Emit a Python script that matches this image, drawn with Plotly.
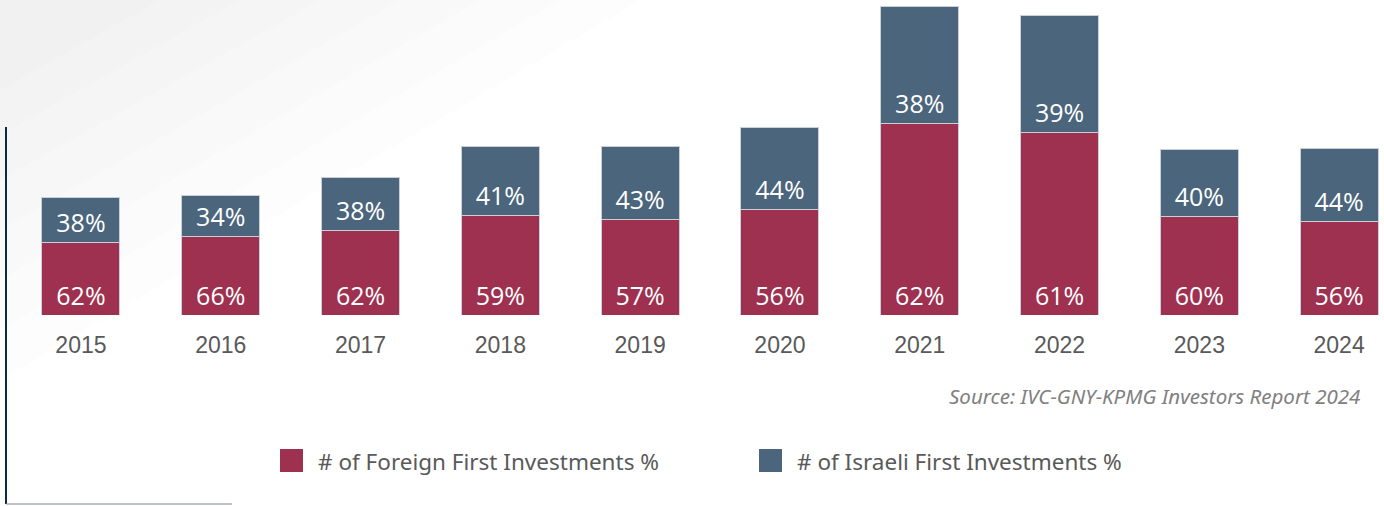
import plotly.graph_objects as go

years = ["2015", "2016", "2017", "2018", "2019", "2020", "2021", "2022", "2023", "2024"]
# number of first investments
foreign = [73, 79, 85, 100, 96, 106, 192, 183, 99, 94]
israeli = [45, 41, 53, 69, 73, 82, 117, 117, 67, 73]
foreign_pct = ["62%", "66%", "62%", "59%", "57%", "56%", "62%", "61%", "60%", "56%"]
israeli_pct = ["38%", "34%", "38%", "41%", "43%", "44%", "38%", "39%", "40%", "44%"]

FOREIGN_COLOR = "#9e3150"
ISRAELI_COLOR = "#4a657c"
W, H = 1384, 506
BOTTOM = 191  # px below the baseline


def px(x, y):
    # page pixels -> paper coordinates
    return x / W, (H - BOTTOM - y) / (H - BOTTOM)


fig = go.Figure()
for name, vals, txt, col in [
    ("# of Foreign First Investments %", foreign, foreign_pct, FOREIGN_COLOR),
    ("# of Israeli First Investments %", israeli, israeli_pct, ISRAELI_COLOR),
]:
    fig.add_trace(go.Bar(
        x=years, y=vals, name=name, text=txt,
        marker=dict(color=col, line=dict(color="#c9d0d8", width=1)),
        width=0.558,
        textposition="inside", insidetextanchor="start", textangle=0,
        constraintext="none",
        insidetextfont=dict(color="white", size=25, family="Open Sans"),
        showlegend=False,
    ))

shapes = []
# faint gradient in the top-left corner
for sx, sy in [(640, 380), (560, 330), (480, 280), (400, 230), (320, 180),
               (240, 135), (160, 90)]:
    x0, y0 = px(0, 0)
    x1, _ = px(sx, 0)
    _, y2 = px(0, sy)
    shapes.append(dict(type="path", xref="paper", yref="paper", layer="below",
                       path=f"M {x0},{y0} L {x1},{y0} L {x0},{y2} Z",
                       fillcolor="#e3e2df", opacity=0.06, line=dict(width=0)))
# frame lines at left / bottom-left
a = px(6, 127); b = px(6, 504); c = px(232, 504)
shapes.append(dict(type="line", xref="paper", yref="paper", x0=a[0], y0=a[1], x1=b[0], y1=b[1],
                   line=dict(color="#0e2841", width=2)))
shapes.append(dict(type="line", xref="paper", yref="paper", x0=b[0], y0=b[1], x1=c[0], y1=c[1],
                   line=dict(color="#7f8891", width=1)))

# legend squares
annotations = []
for lx, label, col in [(280, "# of Foreign First Investments %", FOREIGN_COLOR),
                       (759, "# of Israeli First Investments %", ISRAELI_COLOR)]:
    p0 = px(lx, 449); p1 = px(lx + 23, 472)
    shapes.append(dict(type="rect", xref="paper", yref="paper", x0=p0[0], y0=p1[1], x1=p1[0], y1=p0[1],
                       fillcolor=col, line=dict(width=0)))
    t = px(lx + 36, 461)
    annotations.append(dict(xref="paper", yref="paper", x=t[0], y=t[1], xanchor="left", yanchor="middle",
                            text=label, showarrow=False,
                            font=dict(family="Noto Sans", size=22.5, color="#595959")))

s = px(1362, 396)
annotations.append(dict(xref="paper", yref="paper", x=s[0], y=s[1], xanchor="right", yanchor="middle",
                        text="<i>Source: IVC-GNY-KPMG Investors Report 2024</i>", showarrow=False,
                        font=dict(family="Noto Sans", size=20.5, color="#808080")))

fig.update_layout(
    barmode="stack",
    width=W, height=H,
    margin=dict(l=0, r=0, t=0, b=BOTTOM),
    paper_bgcolor="white", plot_bgcolor="rgba(0,0,0,0)",
    shapes=shapes, annotations=annotations,
    xaxis=dict(type="category", range=[-0.579, 9.321], showgrid=False, showline=False,
               ticks="", tickfont=dict(family="Liberation Sans", size=23, color="#595959"),
               ticklabelstandoff=14),
    yaxis=dict(range=[0, 315], visible=False),
)

fig.write_html("out.html", config={"displayModeBar": False},
               post_script="document.body.style.margin='0';")
